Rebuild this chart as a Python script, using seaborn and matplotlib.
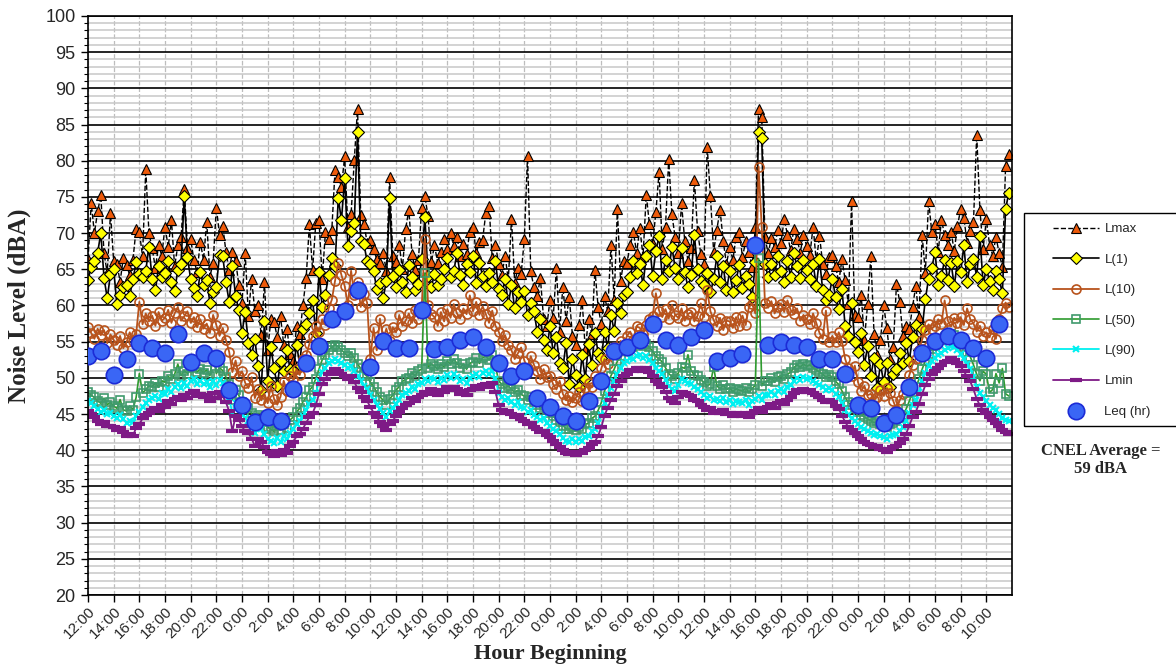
import numpy as np
import pandas as pd
import matplotlib
matplotlib.use("Agg")
import matplotlib.pyplot as plt
import seaborn as sns
from matplotlib.patches import Rectangle
from matplotlib.ticker import MultipleLocator

# 15-minute readings, starting at 12:00 on day 1 (72 hours)
start_time = "2021-06-01 12:00"

lmax = [
    66.4, 74.1, 70.0, 73.0, 75.2, 67.2, 64.5, 72.8, 66.1, 65.8, 63.3, 66.5, 65.6, 64.2, 66.3, 70.6,
    70.2, 66.8, 78.8, 70.0, 67.9, 65.2, 68.3, 66.9, 70.9, 68.1, 71.8, 65.4, 68.3, 69.4, 76.1, 68.0,
    69.2, 66.3, 64.6, 68.8, 66.3, 71.6, 64.0, 65.9, 73.5, 69.8, 71.0, 67.4, 64.9, 67.4, 66.2, 62.9,
    60.4, 67.2, 58.6, 63.7, 59.2, 60.0, 55.9, 63.2, 53.8, 58.1, 57.7, 55.6, 58.5, 54.6, 56.8, 53.3,
    52.4, 57.2, 56.0, 60.1, 63.8, 71.2, 64.9, 71.4, 71.8, 63.7, 70.1, 69.2, 70.5, 78.7, 77.8, 76.4,
    80.6, 70.8, 72.6, 80.1, 87.2, 72.5, 71.3, 68.7, 69.1, 67.8, 66.4, 65.9, 67.2, 64.8, 77.8, 66.9,
    66.0, 68.4, 65.1, 70.6, 73.2, 67.1, 64.9, 66.3, 73.5, 75.1, 72.3, 66.0, 68.3, 65.9, 67.4, 69.2,
    67.8, 70.0, 68.2, 69.5, 66.9, 68.5, 67.1, 70.2, 70.9, 67.2, 68.8, 69.1, 72.8, 73.8, 66.5, 68.4,
    65.8, 64.2, 66.9, 63.5, 72.0, 63.1, 65.2, 64.3, 69.2, 80.7, 64.7, 62.5, 61.3, 63.8, 58.2, 57.1,
    60.8, 58.3, 65.2, 56.4, 62.6, 57.9, 61.2, 55.8, 54.6, 57.3, 60.8, 53.9, 58.2, 56.1, 64.9, 59.8,
    57.4, 61.3, 59.2, 68.4, 60.8, 73.3, 63.4, 66.1, 65.9, 68.4, 70.1, 67.3, 70.7, 66.8, 75.3, 71.2,
    68.5, 72.9, 78.5, 67.8, 70.9, 80.2, 72.6, 69.4, 67.3, 74.1, 68.9, 66.2, 68.0, 77.4, 70.3, 67.1,
    65.8, 81.9, 75.1, 67.4, 70.5, 73.2, 68.9, 65.7, 68.1, 66.3, 69.5, 70.2, 66.7, 68.9, 67.4, 65.3,
    70.8, 87.1, 86.0, 69.4, 67.2, 69.3, 68.1, 70.4, 68.7, 71.9, 69.8, 67.6, 70.6, 69.2, 67.3, 69.8,
    68.2, 67.0, 70.9, 66.1, 69.6, 65.8, 64.3, 66.7, 67.0, 65.5, 63.2, 66.4, 63.5, 60.2, 74.5, 58.7,
    58.4, 61.4, 55.3, 60.2, 66.8, 56.1, 53.2, 55.2, 60.0, 56.9, 52.6, 54.3, 63.0, 60.5, 55.8, 57.1,
    56.7, 59.8, 62.7, 58.4, 69.7, 64.5, 74.5, 70.1, 71.2, 67.4, 71.8, 69.8, 68.3, 70.2, 67.5, 71.0,
    73.3, 72.1, 68.7, 70.3, 71.6, 83.6, 73.2, 67.8, 71.9, 68.4, 66.9, 69.5, 67.2, 65.3, 79.3, 81.0,
]

l1 = [
    63.5, 65.3, 66.2, 67.3, 70.0, 63.8, 61.0, 64.3, 65.0, 60.2, 61.4, 62.5, 62.8, 61.3, 63.6, 66.0,
    64.3, 63.9, 64.8, 68.1, 63.7, 62.1, 65.4, 64.0, 64.5, 66.1, 63.2, 62.0, 64.9, 65.8, 75.1, 66.7,
    63.6, 62.4, 61.3, 64.6, 62.8, 63.5, 60.4, 61.9, 62.6, 67.0, 66.8, 63.2, 60.5, 65.4, 61.3, 59.4,
    56.2, 59.1, 54.8, 53.2, 55.4, 51.6, 48.3, 57.8, 49.6, 54.2, 51.3, 48.9, 52.4, 50.9, 53.8, 51.2,
    51.0, 54.6, 51.8, 56.7, 57.5, 58.9, 60.8, 56.2, 64.6, 59.8, 61.5, 64.2, 66.5, 65.4, 74.8, 71.8,
    77.6, 68.2, 70.3, 71.4, 84.0, 68.9, 68.5, 66.1, 65.7, 64.8, 62.3, 63.1, 61.0, 63.4, 74.8, 64.1,
    62.5, 64.9, 63.2, 61.8, 65.6, 63.9, 62.1, 63.0, 66.4, 72.2, 64.1, 62.6, 64.3, 62.8, 63.6, 65.1,
    66.5, 63.9, 64.7, 67.3, 64.2, 62.9, 65.8, 64.6, 66.8, 63.1, 65.9, 64.1, 62.7, 64.5, 63.3, 66.1,
    62.3, 61.4, 63.7, 60.2, 62.8, 59.6, 61.9, 60.5, 62.0, 58.7, 60.3, 59.2, 56.4, 58.1, 55.3, 53.8,
    57.2, 53.4, 55.6, 52.1, 51.3, 54.8, 49.2, 52.6, 50.4, 48.7, 53.1, 49.9, 54.7, 51.8, 56.2, 53.5,
    52.8, 56.4, 54.1, 58.7, 56.5, 60.3, 58.9, 61.4, 61.8, 63.9, 66.2, 64.5, 65.7, 62.8, 66.9, 68.4,
    64.1, 67.5, 69.6, 63.7, 66.3, 64.8, 68.1, 65.2, 63.7, 67.9, 64.6, 62.5, 64.2, 69.7, 65.1, 63.4,
    62.9, 64.5, 61.8, 63.6, 66.8, 63.2, 65.4, 62.1, 64.7, 61.9, 63.5, 65.6, 62.4, 64.1, 63.0, 61.2,
    66.0, 84.0, 83.2, 65.8, 63.9, 65.7, 64.2, 66.9, 64.8, 63.3, 66.1, 64.0, 67.2, 65.4, 63.8, 66.3,
    64.9, 63.6, 65.8, 62.7, 66.4, 62.1, 60.8, 61.5, 63.7, 61.2, 59.5, 62.3, 57.1, 55.8, 60.4, 54.9,
    53.6, 56.2, 51.8, 54.4, 50.3, 52.7, 48.6, 51.9, 49.4, 52.1, 48.8, 50.6, 51.2, 53.5, 52.0, 54.8,
    52.4, 55.6, 57.3, 53.9, 56.8, 60.9, 63.7, 65.2, 67.4, 62.8, 64.1, 66.3, 63.5, 65.9, 62.7, 66.1,
    64.6, 68.3, 63.2, 65.7, 66.4, 64.0, 69.6, 62.9, 65.1, 63.4, 62.2, 64.8, 63.6, 61.7, 73.3, 75.6,
]

l10 = [
    57.0, 56.2, 55.4, 56.8, 55.9, 56.6, 54.8, 56.0, 55.2, 54.6, 55.8, 54.1, 54.9, 56.3, 55.1, 56.0,
    60.5, 57.4, 58.9, 57.8, 58.6, 57.2, 59.1, 57.9, 58.3, 59.4, 57.6, 58.9, 59.8, 57.9, 58.5, 59.2,
    57.6, 58.4, 57.0, 58.1, 56.8, 57.5, 56.2, 58.7, 57.3, 55.8, 56.9, 55.2, 53.6, 50.8, 52.4, 50.2,
    50.9, 49.3, 48.6, 50.1, 47.2, 48.5, 46.9, 47.8, 46.5, 48.9, 47.1, 46.3, 47.4, 49.6, 48.2, 50.3,
    49.8, 51.2, 50.4, 52.6, 53.1, 54.7, 55.8, 57.2, 56.4, 58.1, 57.3, 59.6, 60.8, 63.4, 65.9, 64.2,
    62.7, 60.1, 64.8, 61.5, 63.3, 59.8, 61.6, 60.4, 52.6, 56.9, 53.8, 58.2, 55.4, 56.8, 55.1, 57.0,
    56.3, 58.7, 57.2, 57.9, 58.9, 57.6, 59.4, 58.2, 59.6, 69.2, 60.1, 58.8, 58.4, 57.2, 59.1, 57.8,
    59.5, 58.3, 60.2, 58.9, 58.2, 59.6, 58.8, 61.4, 59.2, 60.5, 58.7, 59.9, 58.8, 57.6, 59.3, 57.2,
    56.4, 55.1, 55.9, 54.6, 53.8, 52.6, 53.4, 54.2, 52.4, 51.3, 53.0, 51.8, 50.9, 49.8, 51.2, 50.1,
    50.3, 49.1, 48.4, 49.6, 47.8, 46.9, 47.5, 46.6, 47.2, 48.1, 46.8, 48.6, 49.3, 48.7, 50.2, 49.8,
    51.3, 52.6, 51.9, 53.4, 54.2, 53.5, 55.1, 54.6, 55.8, 56.4, 55.2, 57.1, 56.9, 56.1, 57.3, 58.2,
    58.6, 61.7, 59.3, 58.4, 59.5, 58.2, 60.1, 58.7, 58.3, 59.6, 57.9, 58.8, 59.1, 57.8, 58.6, 60.3,
    58.4, 62.1, 59.2, 58.0, 57.1, 58.3, 56.6, 57.9, 57.8, 56.9, 58.4, 57.2, 58.6, 57.3, 59.8, 60.2,
    58.9, 79.2, 70.8, 60.4, 59.7, 60.6, 58.9, 59.8, 60.2, 59.1, 60.7, 59.4, 58.8, 59.6, 57.9, 58.7,
    58.1, 57.4, 58.9, 57.6, 56.2, 55.4, 59.3, 55.0, 55.8, 54.9, 56.3, 55.1, 52.6, 51.3, 50.2, 51.7,
    49.4, 48.2, 48.9, 47.6, 47.8, 46.9, 47.4, 48.3, 47.5, 48.6, 47.9, 46.8, 45.6, 46.9, 47.8, 48.9,
    50.4, 51.8, 52.6, 53.9, 55.3, 56.6, 57.4, 56.8, 57.2, 58.1, 57.5, 60.7, 57.9, 57.1, 58.3, 57.6,
    58.4, 57.3, 59.6, 58.1, 57.5, 56.4, 57.2, 55.8, 56.3, 55.6, 56.8, 55.4, 58.2, 59.6, 60.4, 59.8,
]

l50 = [
    48.0, 47.6, 47.3, 46.8, 46.5, 47.2, 46.3, 46.6, 46.1, 45.8, 47.0, 45.6, 45.4, 46.1, 45.6, 47.3,
    50.6, 47.9, 48.4, 48.9, 48.8, 49.3, 48.7, 49.6, 49.4, 50.2, 49.8, 50.5, 51.9, 50.3, 51.0, 50.6,
    51.3, 51.8, 50.8, 51.2, 50.7, 51.1, 50.3, 53.0, 50.6, 51.4, 51.0, 50.1, 49.2, 47.0, 48.3, 47.6,
    46.6, 46.0, 45.8, 45.1, 44.0, 44.9, 44.6, 43.9, 43.2, 42.9, 42.6, 43.4, 42.8, 43.6, 43.1, 44.2,
    44.6, 45.3, 45.8, 46.7, 47.3, 48.3, 48.8, 49.9, 51.2, 52.5, 53.2, 53.9, 54.2, 54.6, 54.3, 53.9,
    53.4, 53.0, 53.5, 52.7, 51.9, 51.3, 50.6, 50.2, 49.4, 48.8, 48.0, 47.4, 46.9, 46.3, 47.1, 47.6,
    48.3, 48.8, 49.5, 49.8, 50.0, 50.7, 50.3, 51.0, 51.2, 64.5, 51.4, 51.9, 51.6, 51.2, 51.9, 51.5,
    52.3, 51.9, 52.6, 52.0, 51.4, 51.9, 51.2, 52.0, 52.2, 52.7, 52.0, 52.8, 53.0, 52.5, 53.1, 51.6,
    49.6, 49.1, 48.6, 48.9, 48.4, 48.0, 48.3, 47.7, 47.5, 47.0, 47.3, 46.6, 46.3, 45.9, 46.1, 45.5,
    45.1, 44.7, 44.2, 43.9, 43.4, 43.0, 42.9, 43.2, 42.8, 43.2, 43.0, 43.6, 43.7, 44.4, 44.7, 45.5,
    46.6, 48.2, 49.3, 50.3, 51.2, 52.3, 53.0, 53.7, 54.0, 54.5, 54.3, 54.7, 54.8, 54.4, 54.7, 54.2,
    53.7, 53.0, 52.6, 52.2, 51.4, 50.6, 50.2, 49.9, 50.7, 51.5, 51.3, 53.2, 51.0, 50.4, 50.2, 49.7,
    49.4, 48.9, 49.2, 51.5, 48.9, 48.5, 49.0, 48.4, 48.6, 48.1, 48.5, 48.3, 48.2, 48.6, 48.0, 48.5,
    49.0, 66.5, 48.9, 49.5, 49.6, 50.0, 49.4, 50.1, 50.3, 49.9, 50.5, 50.8, 51.4, 51.8, 51.5, 51.9,
    51.6, 51.8, 51.4, 51.1, 50.8, 50.5, 50.1, 50.4, 50.1, 49.5, 49.1, 48.2, 47.3, 46.6, 46.2, 45.8,
    45.3, 44.9, 44.6, 44.3, 44.1, 43.8, 44.0, 43.6, 43.5, 43.2, 43.6, 43.8, 44.0, 44.4, 44.9, 45.7,
    46.8, 48.0, 48.7, 49.8, 51.2, 52.4, 53.3, 54.0, 54.4, 54.8, 55.2, 55.6, 55.8, 56.1, 55.9, 55.5,
    55.0, 54.3, 53.6, 52.9, 51.8, 50.5, 49.6, 50.9, 50.5, 48.0, 48.4, 50.6, 49.3, 51.3, 47.8, 47.5,
]

l90 = [
    46.8, 46.5, 46.1, 45.7, 45.3, 45.6, 45.0, 45.1, 44.8, 44.5, 44.9, 44.3, 43.8, 44.1, 43.9, 44.8,
    45.3, 46.0, 46.5, 46.9, 47.2, 47.5, 47.1, 47.9, 47.8, 48.4, 48.1, 48.7, 49.1, 48.6, 49.3, 48.9,
    49.6, 49.9, 49.2, 49.5, 49.1, 49.4, 48.7, 49.6, 49.0, 49.7, 49.3, 48.5, 47.2, 45.1, 46.5, 45.9,
    45.0, 44.4, 44.1, 43.5, 42.4, 43.2, 42.9, 42.2, 41.6, 41.3, 41.0, 41.7, 41.2, 41.9, 41.5, 42.4,
    43.0, 43.6, 44.0, 44.8, 45.6, 46.4, 46.9, 47.9, 49.5, 50.8, 51.4, 52.0, 52.3, 52.6, 52.4, 52.1,
    51.8, 51.4, 51.7, 51.0, 50.2, 49.6, 48.9, 48.5, 47.7, 47.0, 46.3, 45.7, 45.2, 44.6, 45.4, 45.9,
    46.4, 47.0, 47.6, 47.9, 48.2, 48.8, 48.5, 49.1, 49.3, 49.8, 49.5, 50.0, 49.9, 49.4, 50.0, 49.7,
    50.4, 50.0, 50.5, 50.1, 49.5, 49.9, 49.3, 50.0, 50.2, 50.6, 50.1, 50.7, 50.9, 50.5, 51.0, 49.8,
    47.9, 47.4, 46.9, 47.2, 46.7, 46.3, 46.6, 46.0, 45.8, 45.3, 45.5, 44.9, 44.6, 44.2, 44.4, 43.8,
    43.4, 43.0, 42.6, 42.2, 41.7, 41.3, 41.2, 41.5, 41.1, 41.5, 41.3, 41.8, 42.0, 42.6, 42.9, 43.7,
    44.9, 46.5, 47.6, 48.6, 49.5, 50.6, 51.3, 52.0, 52.3, 52.8, 52.6, 53.0, 53.1, 52.7, 53.0, 52.5,
    52.0, 51.3, 50.9, 50.5, 49.7, 48.9, 48.5, 48.2, 49.0, 49.8, 49.6, 49.3, 49.2, 48.7, 48.5, 48.0,
    47.7, 47.2, 47.5, 46.9, 47.1, 46.8, 47.2, 46.7, 46.9, 46.4, 46.8, 46.6, 46.5, 46.9, 46.3, 46.8,
    47.1, 47.5, 47.0, 47.6, 47.7, 48.1, 47.6, 48.2, 48.5, 48.1, 48.7, 49.0, 49.6, 50.0, 49.7, 50.1,
    49.8, 50.0, 49.6, 49.3, 49.0, 48.7, 48.3, 48.6, 48.3, 47.8, 47.4, 46.5, 45.6, 44.9, 44.5, 44.1,
    43.6, 43.2, 42.9, 42.6, 42.4, 42.1, 42.3, 41.9, 41.8, 41.5, 41.9, 42.1, 42.3, 42.7, 43.2, 44.0,
    45.1, 46.3, 47.0, 48.1, 49.5, 50.7, 51.6, 52.3, 52.7, 53.1, 53.5, 53.9, 54.1, 54.4, 54.2, 53.8,
    53.3, 52.6, 51.9, 51.2, 50.1, 48.8, 47.9, 47.3, 46.8, 46.3, 45.9, 45.5, 45.0, 44.5, 44.2, 44.0,
]

lmin = [
    45.4, 45.0, 44.6, 44.1, 43.6, 43.9, 43.4, 43.3, 43.2, 42.8, 43.1, 42.5, 41.9, 42.3, 42.0, 43.1,
    43.6, 44.4, 44.9, 45.2, 45.5, 45.9, 45.4, 46.3, 46.0, 46.8, 46.4, 47.1, 47.4, 46.9, 47.6, 47.2,
    47.9, 48.2, 47.5, 47.8, 47.3, 47.6, 46.8, 47.9, 47.2, 48.0, 47.5, 46.6, 45.4, 42.6, 44.8, 44.2,
    43.3, 42.6, 42.4, 41.6, 40.6, 41.5, 41.1, 40.4, 39.8, 39.5, 39.2, 39.9, 39.4, 40.1, 39.6, 40.6,
    41.2, 41.9, 42.3, 43.0, 43.8, 44.6, 45.1, 46.2, 47.8, 49.2, 49.9, 50.6, 50.8, 51.2, 51.0, 50.6,
    50.3, 49.8, 50.2, 49.4, 48.6, 48.0, 47.3, 46.8, 46.0, 45.2, 44.6, 43.9, 43.4, 42.8, 43.6, 44.1,
    44.7, 45.3, 45.9, 46.2, 46.5, 47.2, 46.8, 47.4, 47.6, 48.1, 47.8, 48.4, 48.2, 47.7, 48.3, 48.0,
    48.7, 48.3, 48.8, 48.4, 47.8, 48.2, 47.6, 48.3, 48.5, 48.9, 48.4, 49.0, 49.2, 48.8, 49.3, 48.1,
    46.2, 45.6, 45.1, 45.4, 45.0, 44.6, 44.9, 44.3, 44.1, 43.6, 43.8, 43.2, 42.9, 42.5, 42.7, 42.1,
    41.8, 41.3, 40.9, 40.5, 40.0, 39.6, 39.5, 39.8, 39.4, 39.8, 39.6, 40.1, 40.3, 40.9, 41.2, 42.0,
    43.2, 44.8, 45.9, 46.9, 47.8, 48.9, 49.6, 50.3, 50.6, 51.1, 50.9, 51.3, 51.4, 51.0, 51.3, 50.8,
    50.3, 49.6, 49.2, 48.8, 48.0, 47.2, 46.8, 46.5, 47.3, 48.1, 47.9, 47.6, 47.5, 47.0, 46.8, 46.3,
    46.0, 45.5, 45.8, 45.2, 45.4, 45.1, 45.5, 45.0, 45.2, 44.7, 45.1, 44.9, 44.8, 45.2, 44.6, 45.1,
    45.4, 45.8, 45.3, 45.9, 46.0, 46.4, 45.9, 46.5, 46.8, 46.4, 47.0, 47.3, 47.9, 48.3, 48.0, 48.4,
    48.1, 48.3, 47.9, 47.6, 47.3, 47.0, 46.6, 46.9, 46.6, 46.1, 45.7, 44.8, 43.9, 43.2, 42.8, 42.4,
    41.9, 41.5, 41.2, 40.9, 40.7, 40.4, 40.6, 40.2, 40.1, 39.8, 40.2, 40.4, 40.6, 41.0, 41.5, 42.3,
    43.4, 44.6, 45.3, 46.4, 47.8, 49.0, 49.9, 50.6, 51.0, 51.4, 51.8, 52.2, 52.4, 52.7, 52.5, 52.1,
    51.6, 50.9, 50.2, 49.5, 48.4, 47.1, 46.2, 45.6, 45.1, 44.6, 44.2, 43.8, 43.3, 42.8, 42.5, 42.3,
]

# hourly Leq, one value at the start of each hour
leq_hr = [
    53.0, 53.7, 50.4, 52.6, 54.8, 54.1, 53.5, 56.1, 52.2, 53.4, 52.8, 48.3,
    46.2, 43.9, 44.6, 44.0, 48.4, 52.0, 54.4, 58.2, 59.3, 62.1, 51.5, 55.1,
    54.1, 54.1, 59.4, 54.0, 54.2, 55.3, 55.6, 54.3, 52.0, 50.2, 51.0, 47.2,
    46.0, 44.7, 44.1, 46.8, 49.5, 53.7, 54.2, 55.2, 57.4, 55.3, 54.6, 55.7,
    56.6, 52.3, 52.8, 53.3, 68.3, 54.6, 55.0, 54.5, 54.2, 52.6, 52.6, 50.6,
    46.2, 45.8, 43.7, 44.9, 48.7, 53.4, 55.1, 55.8, 55.2, 54.1, 52.8, 57.4,
]


def main():
    t15 = pd.date_range(start_time, periods=len(lmax), freq="15min")
    thr = pd.date_range(start_time, periods=len(leq_hr), freq="h")
    t0 = t15[0]
    df = pd.DataFrame({
        "hours": (t15 - t0) / pd.Timedelta(hours=1),
        "Lmax": lmax, "L1": l1, "L10": l10, "L50": l50, "L90": l90, "Lmin": lmin,
    })
    dh = pd.DataFrame({"hours": (thr - t0) / pd.Timedelta(hours=1), "Leq": leq_hr})

    sns.set_style("white")
    plt.rcParams["font.family"] = ["Liberation Sans", "DejaVu Sans"]

    fig = plt.figure(figsize=(11.76, 6.71), dpi=100)
    ax = fig.add_axes([88 / 1176, 76 / 671, 924 / 1176, 579 / 671])

    common = dict(x="hours", data=df, ax=ax, estimator=None, errorbar=None)
    sns.lineplot(y="Lmax", label="Lmax", color="black", linestyle="--", linewidth=1,
                 marker="^", markersize=7, markerfacecolor="#EE5A0A",
                 markeredgecolor="black", markeredgewidth=0.8, **common)
    sns.lineplot(y="L1", label="L(1)", color="black", linewidth=1.2,
                 marker="D", markersize=5.8, markerfacecolor="#FFFF00",
                 markeredgecolor="black", markeredgewidth=0.8, **common)
    sns.lineplot(y="L10", label="L(10)", color="#B8531C", linewidth=1.3,
                 marker="o", markersize=6.5, markerfacecolor="none",
                 markeredgecolor="#B8531C", markeredgewidth=1.2, **common)
    sns.lineplot(y="L50", label="L(50)", color="#2E9B2E", linewidth=1.2,
                 marker="s", markersize=6, markerfacecolor="none",
                 markeredgecolor="#3F9A6C", markeredgewidth=1.2, **common)
    sns.lineplot(y="L90", label="L(90)", color="#00F0F0", linewidth=1.3,
                 marker="x", markersize=5, markeredgecolor="#00F0F0",
                 markeredgewidth=1.5, **common)
    sns.lineplot(y="Lmin", label="Lmin", color="#7E1A86", linewidth=1.3,
                 marker="_", markersize=8, markeredgecolor="#7E1A86",
                 markeredgewidth=3, **common)
    sns.scatterplot(x="hours", y="Leq", data=dh, ax=ax, label="Leq (hr)",
                    s=140, color="#3A66F5", edgecolor="#1C2BD6", linewidth=1.2,
                    zorder=5)

    ax.set_xlim(0, 72)
    ax.set_ylim(20, 100)
    ax.yaxis.set_major_locator(MultipleLocator(5))
    ax.yaxis.set_minor_locator(MultipleLocator(1))
    tick_times = pd.date_range(start_time, periods=36, freq="2h")
    ax.set_xticks((tick_times - t0) / pd.Timedelta(hours=1))
    ax.set_xticklabels([f"{t.hour}:00" for t in tick_times], rotation=45,
                       ha="right", rotation_mode="anchor")

    ax.set_axisbelow(True)
    ax.grid(which="minor", axis="y", color="#c8c8c8", linewidth=1.1)
    ax.grid(which="major", axis="y", color="black", linewidth=1.2)
    ax.grid(which="major", axis="x", color="#bdbdbd", linestyle="--", linewidth=0.9)

    ax.tick_params(axis="both", which="major", direction="out", length=5, width=1,
                   bottom=True, left=True, color="black")
    ax.tick_params(axis="y", labelsize=13, pad=4)
    ax.tick_params(axis="x", labelsize=11, pad=2)
    ax.tick_params(axis="y", which="minor", direction="out", length=3, width=0.8,
                   left=True, color="black")
    for sp in ax.spines.values():
        sp.set_color("black")
        sp.set_linewidth(1.2)

    ax.set_ylabel("Noise Level (dBA)", family="Liberation Serif", fontweight="bold",
                  fontsize=18, labelpad=10)
    ax.set_xlabel("Hour Beginning", family="Liberation Serif", fontweight="bold",
                  fontsize=16, labelpad=2)

    handles, labels = ax.get_legend_handles_labels()
    ax.legend().remove()
    fig.legend(handles, labels, loc="upper left",
               bbox_to_anchor=(1053 / 1176, 1 - 223 / 671),
               frameon=False, fontsize=9.5, handlelength=3.5, handletextpad=0.4,
               labelspacing=1.38, borderpad=0, borderaxespad=0)
    fig.add_artist(Rectangle((1024 / 1176, 1 - 426 / 671), 0.2, 213 / 671,
                             transform=fig.transFigure, fill=False,
                             edgecolor="black", linewidth=1))

    fig.text(1101 / 1176, 1 - 460 / 671, "CNEL Average =\n59 dBA", ha="center",
             va="center", family="Liberation Serif", fontweight="bold",
             fontsize=12, linespacing=1.1)

    fig.savefig("out.png", dpi=100)
    plt.close(fig)


if __name__ == "__main__":
    main()
